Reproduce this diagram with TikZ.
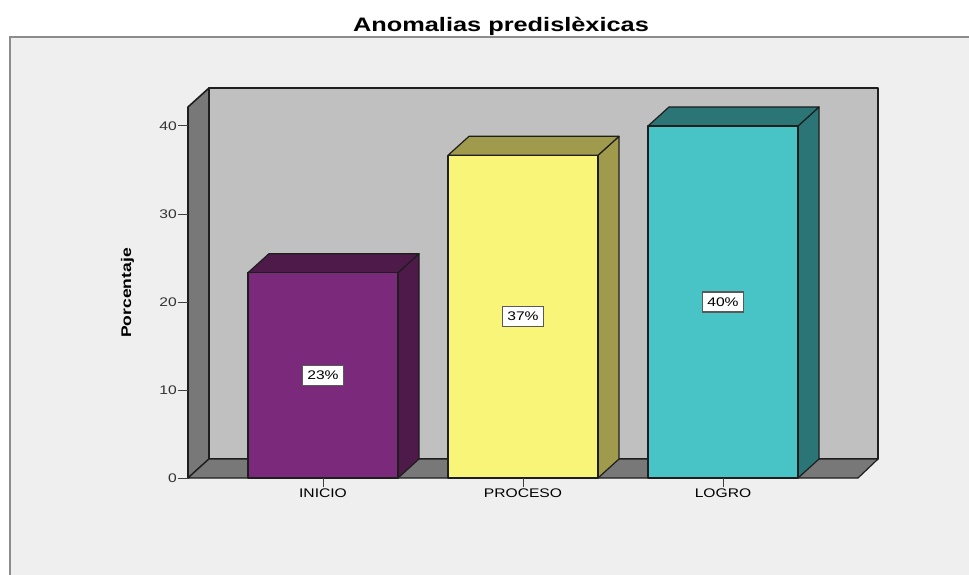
\documentclass[tikz,border=0pt]{standalone}
\usepackage{fontspec}
\setmainfont{Liberation Sans}
\newfontfamily\chartfont[FakeStretch=1.25]{Liberation Sans}
\newfontfamily\headfont[FakeStretch=1.3]{Liberation Sans}
\usepackage{tikz}
\usetikzlibrary{positioning}
\definecolor{panelgray}{RGB}{239, 239, 239}
\definecolor{wallback}{RGB}{192, 192, 192}
\definecolor{wallside}{RGB}{120, 120, 120}
\definecolor{edgegray}{RGB}{30, 30, 30}
\definecolor{iniciofront}{RGB}{123, 41, 122}
\definecolor{inicioside}{RGB}{77, 26, 74}
\definecolor{procesofront}{RGB}{249, 245, 120}
\definecolor{procesoside}{RGB}{160, 155, 76}
\definecolor{logrofront}{RGB}{72, 195, 198}
\definecolor{logroside}{RGB}{43, 117, 119}
\tikzset{
  face/.style={draw=edgegray, line width=1.2pt, line join=round},
  ticklabel/.style={font=\chartfont\fontsize{12.5}{14}\selectfont, text=black!80, inner sep=1pt},
  catlabel/.style={font=\chartfont\fontsize{12.5}{14}\selectfont, inner sep=1pt},
  pctbox/.style={font=\chartfont\fontsize{12.5}{14}\selectfont, fill=white, draw=black!65, line width=1.2pt, inner xsep=5pt, inner ysep=5.5pt}
}

\begin{document}
\begin{tikzpicture}[x=1pt, y=-1pt]
\useasboundingbox (0,0) rectangle (969,575);
% Panel
\fill[white] (0,0) rectangle (969,575);
\fill[panelgray] (10,37) rectangle (969,575);
\draw[black!45, line width=1.5pt] (10,575) -- (10,37) -- (969,37);

% Title
\node[font=\headfont\bfseries\fontsize{19.5}{22}\selectfont, anchor=base] (title) at (501,32) {Anomalias predislèxicas};

% Walls and floor
\draw[face, fill=wallback] (209,88) rectangle (878,459);
\draw[face, fill=wallside, line width=1.6pt] (188,107) -- (209,88) -- (209,459) -- (188,478) -- cycle;
\draw[face, fill=wallside] (188,478) -- (209,459) -- (878,459) -- (858,478) -- cycle;

% Value axis
\foreach \v in {0,10,...,40} {
    \draw[black!75, line width=1pt] (178,478-8.8*\v) -- (188,478-8.8*\v);
    \node[ticklabel, anchor=east] (ytick-\v) at (178,478-8.8*\v) {\v};
}
\node[font=\chartfont\bfseries\fontsize{14}{16}\selectfont, rotate=90, anchor=base] (ytitle) at (131,293) {Porcentaje};

% Bars
\foreach \cat/\xa/\val/\pct/\col in {INICIO/248/23.33/23/inicio, PROCESO/448/36.67/37/proceso, LOGRO/648/40/40/logro} {
    \pgfmathsetmacro{\ytop}{478-8.8*\val}
    \draw[face, fill=\col side] (\xa+150,\ytop) -- (\xa+171,\ytop-19) -- (\xa+171,459) -- (\xa+150,478) -- cycle;
    \draw[face, fill=\col side] (\xa,\ytop) -- (\xa+21,\ytop-19) -- (\xa+171,\ytop-19) -- (\xa+150,\ytop) -- cycle;
    \draw[face, fill=\col front] (\xa,\ytop) rectangle (\xa+150,478);
    \node[pctbox] (pct-\cat) at (\xa+75,{(\ytop+478)/2}) {\pct\%};
    \coordinate (tick-\cat) at (\xa+75,487);
    \draw[black!75, line width=1pt] (\xa+75,478) -- (tick-\cat);
    \node[catlabel, below=1pt of tick-\cat] (cat-\cat) {\cat};
}
\end{tikzpicture}
\end{document}
